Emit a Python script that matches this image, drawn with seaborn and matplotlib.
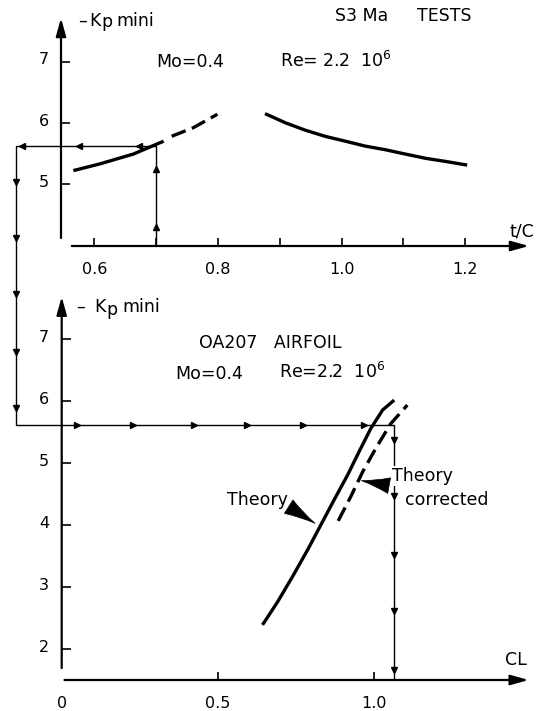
import matplotlib
matplotlib.use("Agg")
import matplotlib.pyplot as plt
import matplotlib.transforms as mtransforms
import numpy as np
import pandas as pd
import seaborn as sns

# S3Ma tests: -Kp mini against relative thickness t/C
tc_low = [0.566, 0.609, 0.663, 0.712]
kp_low = [5.22, 5.33, 5.49, 5.70]
tc_extrap = [0.725, 0.760, 0.799]
kp_extrap = [5.78, 5.92, 6.14]
tc_high = [0.876, 0.909, 0.941, 0.973, 1.006, 1.038, 1.071, 1.103, 1.136, 1.168, 1.203]
kp_high = [6.15, 6.00, 5.88, 5.78, 5.70, 5.62, 5.56, 5.49, 5.42, 5.37, 5.31]

# OA207 airfoil: -Kp mini against lift coefficient
cl_theory = [0.642, 0.690, 0.738, 0.786, 0.828, 0.871, 0.914, 0.951, 0.988, 1.026, 1.063]
kp_theory = [2.39, 2.76, 3.17, 3.60, 4.00, 4.41, 4.81, 5.19, 5.56, 5.86, 6.02]
cl_corrected = [0.884, 0.924, 0.962, 1.004, 1.052, 1.105]
kp_corrected = [4.07, 4.46, 4.86, 5.24, 5.64, 5.94]

# operating point carried from the test chart to the airfoil chart
tc_design = 0.70
kp_design = 5.62
cl_design = 1.063

tc_ticks = [0.6, 0.7, 0.8, 0.9, 1.0, 1.1, 1.2]
tc_labels = ["0.6", "", "0.8", "", "1.0", "", "1.2"]
kp_ticks_top = [5, 6, 7]
cl_ticks = [0.0, 0.5, 1.0]
cl_labels = ["0", "0.5", "1.0"]
kp_ticks_bottom = [2, 3, 4, 5, 6, 7]

sns.set_theme(style="white")
plt.rcParams["font.family"] = ["DejaVu Sans"]
plt.rcParams["mathtext.fontset"] = "dejavusans"
plt.rcParams["mathtext.default"] = "regular"

W, H = 545, 711
fig = plt.figure(figsize=(W / 100, H / 100), dpi=100)
fig.patch.set_facecolor("white")


def rect(left, right, bottom, top):
    return [left / W, 1 - bottom / H, (right - left) / W, (bottom - top) / H]


def fpos(x, y):
    return x / W, 1 - y / H


ax1 = fig.add_axes(rect(61, 529, 246, 18))
ax2 = fig.add_axes(rect(61.7, 528.7, 680, 296.7))
ax1.set_xlim(0.546, 1.303)
ax1.set_ylim(3.99, 7.71)
ax2.set_xlim(0.0, 1.493)
ax2.set_ylim(1.50, 7.69)

CURVE_LW = 2.4
DASH = (4.5, 2.0)

def curve(ax, x, y, dashed=False):
    sns.lineplot(x=x, y=y, ax=ax, sort=False, estimator=None, color="black",
                 lw=CURVE_LW, solid_capstyle="butt", solid_joinstyle="round")
    if dashed:
        ax.lines[-1].set_dashes(DASH)

curve(ax1, tc_low, kp_low)
curve(ax1, tc_extrap, kp_extrap, dashed=True)
curve(ax1, tc_high, kp_high)
curve(ax2, cl_theory, kp_theory)
curve(ax2, cl_corrected, kp_corrected, dashed=True)

axis_arrow = dict(arrowstyle="-|>,head_length=0.9,head_width=0.25",
                  color="black", lw=1.6, shrinkA=0, shrinkB=0)

for ax, y0, x0 in [(ax1, 0.035, 0.023), (ax2, 0.031, 0.006)]:
    for s in ax.spines.values():
        s.set_visible(False)
    ax.set_facecolor("none")
    ax.grid(False)
    ax.annotate("", xy=(0, 1), xytext=(0, y0), xycoords="axes fraction",
                arrowprops=axis_arrow, annotation_clip=False)
    ax.annotate("", xy=(1, 0), xytext=(x0, 0), xycoords="axes fraction",
                arrowprops=axis_arrow, annotation_clip=False)
    ax.tick_params(axis="x", direction="in", length=6, width=1.2, pad=11.5,
                   labelsize=11.5, colors="black", bottom=True)
    ax.tick_params(axis="y", direction="in", length=6.5, width=1.2, pad=9,
                   labelsize=11.5, colors="black", left=True)

ax1.set_xticks(tc_ticks, tc_labels)
ax1.set_yticks(kp_ticks_top)
ax2.set_xticks(cl_ticks, cl_labels)
ax2.set_yticks(kp_ticks_bottom)
ax2.xaxis.get_major_ticks()[0].tick1line.set_visible(False)
for ax in (ax1, ax2):
    ax.set_xlabel("")
    ax.set_ylabel("")

lift = mtransforms.ScaledTranslation(0, 2.2 / 72, fig.dpi_scale_trans)
for ax in (ax1, ax2):
    for lab in ax.get_yticklabels():
        lab.set_transform(lab.get_transform() + lift)

# leader path from the test chart down to the airfoil chart
to_fig = fig.transFigure.inverted()

def data_pt(ax, x, y):
    return to_fig.transform(ax.transData.transform((x, y)))

route_x = to_fig.transform(ax1.transAxes.transform((-0.096, 0)))[0]
A = data_pt(ax1, tc_design, ax1.get_ylim()[0])
B = data_pt(ax1, tc_design, kp_design)
C = np.array([route_x, B[1]])
E = data_pt(ax2, cl_design, kp_design)
D = np.array([route_x, E[1]])
F = data_pt(ax2, cl_design, ax2.get_ylim()[0])

lead = fig.add_axes([0, 0, 1, 1], zorder=2)
lead.set_xlim(0, 1)
lead.set_ylim(0, 1)
lead.axis("off")
lead.patch.set_alpha(0)
path = np.array([A, B, C, D, E, F])
lead.plot(path[:, 0], path[:, 1], color="black", lw=1.0)

heads = [(A, B, "^", [0.19, 0.77]),
         (B, C, "<", [0.12, 0.55, 0.96]),
         (C, D, "v", [0.13, 0.33, 0.53, 0.74, 0.94]),
         (D, E, ">", [0.16, 0.31, 0.47, 0.61, 0.76, 0.92]),
         (E, F, "v", [0.06, 0.28, 0.51, 0.73, 0.96])]
for p0, p1, mk, fracs in heads:
    for f in fracs:
        q = p0 + f * (p1 - p0)
        lead.plot([q[0]], [q[1]], marker=mk, ms=4, color="black", lw=0)

FS = 12.5
txt = dict(fontsize=FS, color="black", va="baseline", ha="left")

# axis titles: -Kp mini, with the p lowered
for x, y, s in [(78.5, 26, "\u2013"), (89, 26, "K"), (101, 27, "p"), (116, 26, "mini"),
                (76.5, 311.7, "\u2013"), (94, 311.7, "K"), (106.5, 315, "p"),
                (122, 311.7, "mini")]:
    fig.text(*fpos(x, y), s, **txt)

# top chart annotations
fig.text(*fpos(335, 20.7), "S3 Ma", **txt)
fig.text(*fpos(417, 20.7), "TESTS", **txt)
fig.text(*fpos(156.7, 66.7), "Mo=0.4", **txt)
fig.text(*fpos(280.3, 66.7), "Re= 2.2  $10^{6}$", **txt)
fig.text(*fpos(510, 237), "t/C", **txt)

# bottom chart annotations
fig.text(*fpos(199, 348.3), "OA207   AIRFOIL", **txt)
fig.text(*fpos(175.7, 379.3), "Mo=0.4", **txt)
fig.text(*fpos(278.7, 378.3), "Re=2.2  $10^{6}$", **txt)
fig.text(*fpos(227, 505), "Theory", **txt)
fig.text(*fpos(392, 481), "Theory", zorder=3,
         bbox=dict(fc="white", ec="none", pad=0.6), **txt)
fig.text(*fpos(405, 505), "corrected", **txt)
fig.text(*fpos(505.3, 665), "CL", **txt)

wedge = dict(arrowstyle="wedge,tail_width=0.95,shrink_factor=0.4",
             fc="black", ec="black", lw=0.5, shrinkA=0, shrinkB=0)
ax2.annotate("", xy=(0.810, 4.03), xytext=(-19, 12), textcoords="offset points",
             arrowprops=wedge, annotation_clip=False)
ax2.annotate("", xy=(0.958, 4.72), xytext=(20, -3.6), textcoords="offset points",
             arrowprops=wedge, annotation_clip=False)

fig.savefig("out.png", dpi=100, facecolor="white")
